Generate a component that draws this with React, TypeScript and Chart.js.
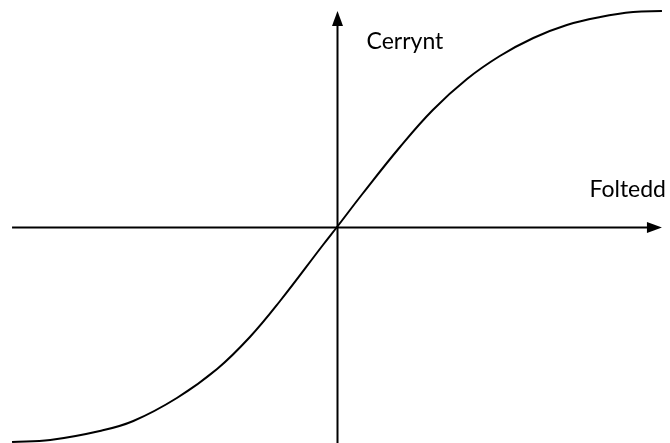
import React, { useEffect, useRef } from "react";
import { Chart, registerables } from "chart.js";

Chart.register(...registerables);

// Voltage (x) and current (y)
const voltage = [-4.85, -4.28, -3.54, -3.04, -2.39, -1.79, -1.3, -0.85, -0.21, 0, 0.39, 0.94, 1.43, 1.94, 2.43, 2.93, 3.43, 3.93, 4.42, 4.85];
const current = [-2.15, -2.13, -2.04, -1.94, -1.71, -1.42, -1.1, -0.74, -0.18, 0, 0.34, 0.8, 1.17, 1.48, 1.71, 1.89, 2.02, 2.1, 2.15, 2.16];

// Axis extents (data units)
const xAxisExtent = [-4.85, 4.85];
const yAxisExtent = [-2.2, 2.16];

const xLabel = "Foltedd";
const yLabel = "Cerrynt";

const axesPlugin = {
  id: "arrowAxes",
  beforeDatasetsDraw(chart: any) {
    const { ctx, scales } = chart;
    const xs = scales.x;
    const ys = scales.y;
    const x0 = Math.round(xs.getPixelForValue(0)) + 0.5;
    const y0 = Math.round(ys.getPixelForValue(0)) + 0.5;
    const xl = xs.getPixelForValue(xAxisExtent[0]);
    const xr = xs.getPixelForValue(xAxisExtent[1]);
    const yb = ys.getPixelForValue(yAxisExtent[0]);
    const yt = ys.getPixelForValue(yAxisExtent[1]);
    ctx.save();
    ctx.strokeStyle = "#000";
    ctx.fillStyle = "#000";
    ctx.lineWidth = 2;
    ctx.beginPath();
    ctx.moveTo(xl, y0);
    ctx.lineTo(xr - 8, y0);
    ctx.moveTo(x0, yb);
    ctx.lineTo(x0, yt + 8);
    ctx.stroke();
    // right arrowhead
    ctx.beginPath();
    ctx.moveTo(xr, y0);
    ctx.lineTo(xr - 15, y0 - 5.5);
    ctx.lineTo(xr - 15, y0 + 5.5);
    ctx.closePath();
    ctx.fill();
    // up arrowhead
    ctx.beginPath();
    ctx.moveTo(x0, yt);
    ctx.lineTo(x0 - 5.5, yt + 15);
    ctx.lineTo(x0 + 5.5, yt + 15);
    ctx.closePath();
    ctx.fill();
    // labels
    ctx.font = "23px Lato, 'Open Sans', sans-serif";
    ctx.textBaseline = "alphabetic";
    ctx.textAlign = "left";
    ctx.fillText(yLabel, x0 + 29, 49);
    ctx.textAlign = "right";
    ctx.fillText(xLabel, chart.width - 4, 197);
    ctx.restore();
  },
};

export default function App() {
  const ref = useRef<HTMLCanvasElement | null>(null);
  useEffect(() => {
    document.body.style.margin = "0";
    const canvas = ref.current!;
    const chart = new Chart(canvas, {
      type: "line",
      data: {
        datasets: [
          {
            data: voltage.map((v, i) => ({ x: v, y: current[i] })),
            borderColor: "#000",
            borderWidth: 2,
            pointRadius: 0,
            tension: 0.4,
            fill: false,
          },
        ],
      },
      options: {
        animation: false,
        responsive: false,
        maintainAspectRatio: false,
        layout: { padding: 0 },
        plugins: { legend: { display: false }, tooltip: { enabled: false } },
        scales: {
          x: { type: "linear", display: false, min: -5.03, max: 4.97 },
          y: { type: "linear", display: false, min: -2.16, max: 2.27 },
        },
      },
      plugins: [axesPlugin],
    });
    return () => chart.destroy();
  }, []);
  return (
    <div style={{ width: 670, height: 443, background: "#fff" }}>
      <canvas ref={ref} width={670} height={443} style={{ display: "block" }} />
    </div>
  );
}
